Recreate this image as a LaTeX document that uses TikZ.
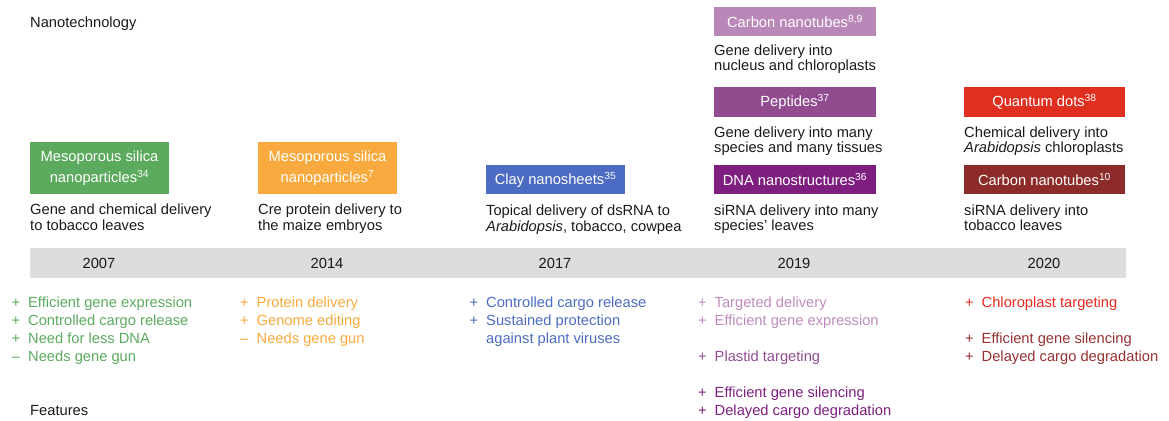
\documentclass[tikz,border=0pt]{standalone}
\usepackage{fontspec}
\setmainfont{Liberation Sans}
\definecolor{cgreen}{HTML}{5BAA5E}
\definecolor{corange}{HTML}{F9AA3E}
\definecolor{cblue}{HTML}{4C6CC3}
\definecolor{clpurple}{HTML}{B987B8}
\definecolor{cmpurple}{HTML}{914C90}
\definecolor{cdpurple}{HTML}{7E1F7F}
\definecolor{cred}{HTML}{E02E1F}
\definecolor{cdred}{HTML}{8C2B2A}
\definecolor{tlpurple}{HTML}{BE8CBD}
\definecolor{tred}{HTML}{E8281E}
\definecolor{tdred}{HTML}{963131}
\definecolor{barg}{HTML}{DDDDDD}
\definecolor{tblack}{HTML}{1A1A1A}
\newcommand\fplus[1]{\makebox[16.5pt][l]{+}#1}
\newcommand\fminus[1]{\makebox[16.5pt][l]{–}#1}
\newcommand\findent[1]{\hspace*{16.5pt}#1}
\begin{document}
\begin{tikzpicture}[x=1pt,y=-1pt,
  box/.style={inner sep=0pt, text=white, align=center, font=\fontsize{14.7}{21.5}\selectfont},
  desc/.style={inner sep=0pt, anchor=base west, text=tblack, font=\fontsize{14.7}{15.5}\selectfont},
  feat/.style={inner sep=0pt, anchor=base west, font=\fontsize{14.7}{18}\selectfont},
  year/.style={inner sep=0pt, anchor=base, text=tblack, font=\fontsize{14.7}{15.5}\selectfont},
  heading/.style={inner sep=0pt, anchor=base west, text=tblack, font=\fontsize{14.7}{15.5}\selectfont}]
\useasboundingbox (0,0) rectangle (1169,420);

% headings
\node[heading] (nano) at (30,28) {Nanotechnology};
\node[heading] (feats) at (30,415) {Features};

% timeline bar and years
\node[fill=barg, inner sep=0pt, minimum width=1095.5pt, minimum height=29.4pt] (bar) at (577.75,263) {};
\node[year] (y2007) at (99,268.5) {2007};
\node[year] (y2014) at (327,268.5) {2014};
\node[year] (y2017) at (555,268.5) {2017};
\node[year] (y2019) at (794,268.5) {2019};
\node[year] (y2020) at (1044,268.5) {2020};

% boxes
\node[box, fill=cgreen, minimum width=139.5pt, minimum height=52.5pt] (b2007) at (99.5,168) {Mesoporous silica\\nanoparticles\textsuperscript{34}};
\node[box, fill=corange, minimum width=139.5pt, minimum height=52.5pt] (b2014) at (327.5,168) {Mesoporous silica\\nanoparticles\textsuperscript{7}};
\node[box, fill=cblue, minimum width=139.5pt, minimum height=29.5pt] (b2017) at (555.5,179.7) {Clay nanosheets\textsuperscript{35}};
\node[box, fill=clpurple, minimum width=162pt, minimum height=29.5pt] (b2019a) at (795,21.5) {Carbon nanotubes\textsuperscript{8,9}};
\node[box, fill=cmpurple, minimum width=162pt, minimum height=29.5pt] (b2019b) at (795,102) {Peptides\textsuperscript{37}};
\node[box, fill=cdpurple, minimum width=162pt, minimum height=29.5pt] (b2019c) at (795,179.7) {DNA nanostructures\textsuperscript{36}};
\node[box, fill=cred, minimum width=161pt, minimum height=29.5pt] (b2020a) at (1044.5,102) {Quantum dots\textsuperscript{38}};
\node[box, fill=cdred, minimum width=161pt, minimum height=29.5pt] (b2020b) at (1044.5,179.7) {Carbon nanotubes\textsuperscript{10}};

% descriptions
\node[desc] (d2007) at (30,214.5) {\begin{tabular}[t]{@{}l@{}}Gene and chemical delivery\\to tobacco leaves\end{tabular}};
\node[desc] (d2014) at (258,214.5) {\begin{tabular}[t]{@{}l@{}}Cre protein delivery to\\the maize embryos\end{tabular}};
\node[desc] (d2017) at (486,215.5) {\begin{tabular}[t]{@{}l@{}}Topical delivery of dsRNA to\\\textit{Arabidopsis}, tobacco, cowpea\end{tabular}};
\node[desc] (d2019a) at (714,55.5) {\begin{tabular}[t]{@{}l@{}}Gene delivery into\\nucleus and chloroplasts\end{tabular}};
\node[desc] (d2019b) at (714,137) {\begin{tabular}[t]{@{}l@{}}Gene delivery into many\\species and many tissues\end{tabular}};
\node[desc] (d2019c) at (714,215) {\begin{tabular}[t]{@{}l@{}}siRNA delivery into many\\species{\char"27} leaves\end{tabular}};
\node[desc] (d2020a) at (964,137) {\begin{tabular}[t]{@{}l@{}}Chemical delivery into\\\textit{Arabidopsis} chloroplasts\end{tabular}};
\node[desc] (d2020b) at (964,215) {\begin{tabular}[t]{@{}l@{}}siRNA delivery into\\tobacco leaves\end{tabular}};

% features
\node[feat, text=cgreen] (f2007) at (11.5,307.5) {\begin{tabular}[t]{@{}l@{}}\fplus{Efficient gene expression}\\\fplus{Controlled cargo release}\\\fplus{Need for less DNA}\\\fminus{Needs gene gun}\end{tabular}};
\node[feat, text=corange] (f2014) at (240,307.5) {\begin{tabular}[t]{@{}l@{}}\fplus{Protein delivery}\\\fplus{Genome editing}\\\fminus{Needs gene gun}\end{tabular}};
\node[feat, text=cblue] (f2017) at (469.5,307.5) {\begin{tabular}[t]{@{}l@{}}\fplus{Controlled cargo release}\\\fplus{Sustained protection}\\\findent{against plant viruses}\end{tabular}};
\node[feat] (f2019) at (698,307.5) {\begin{tabular}[t]{@{}l@{}}\textcolor{tlpurple}{\fplus{Targeted delivery}}\\\textcolor{tlpurple}{\fplus{Efficient gene expression}}\\[18pt]\textcolor{cmpurple}{\fplus{Plastid targeting}}\\[18pt]\textcolor{cdpurple}{\fplus{Efficient gene silencing}}\\\textcolor{cdpurple}{\fplus{Delayed cargo degradation}}\end{tabular}};
\node[feat] (f2020) at (965,307.5) {\begin{tabular}[t]{@{}l@{}}\textcolor{tred}{\fplus{Chloroplast targeting}}\\[18pt]\textcolor{tdred}{\fplus{Efficient gene silencing}}\\\textcolor{tdred}{\fplus{Delayed cargo degradation}}\end{tabular}};
\end{tikzpicture}
\end{document}
